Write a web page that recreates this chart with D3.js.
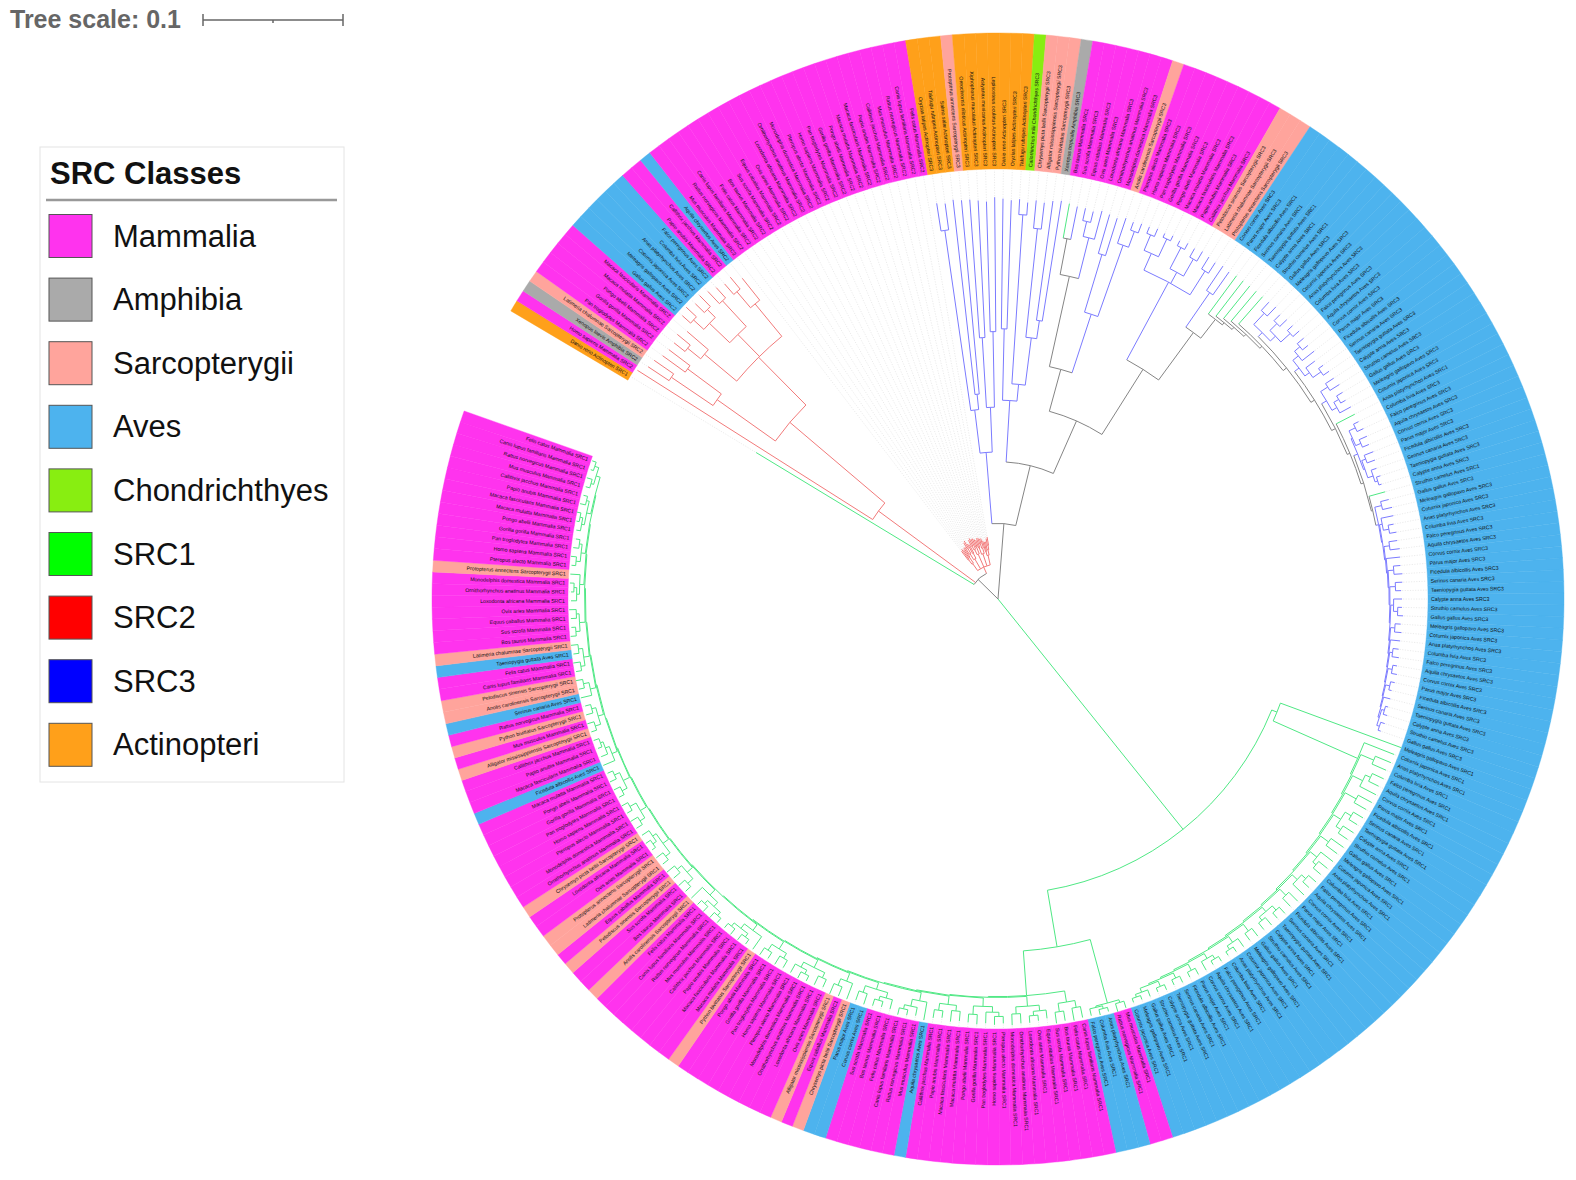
<!DOCTYPE html>
<html>
<head>
<meta charset="utf-8">
<script src="https://cdn.jsdelivr.net/npm/d3@7"></script>
<style>
  html, body { margin: 0; padding: 0; background: #fff; }
  svg { display: block; font-family: "Liberation Sans", Arial, sans-serif; }
</style>
</head>
<body>
<script>
// circular SRC tree: branch lengths in substitutions/site, leaves coded by class letter
// (M, A, S, V, C, O) with an optional SRC digit; clades carry an SRCn label.

const classCodes  = ["M", "A", "S", "V", "C", "O"];
const classNames  = ["Mammalia", "Amphibia", "Sarcopterygii", "Aves", "Chondrichthyes", "Actinopteri"];
const classColors = ["#ff33ee", "#aaaaaa", "#ffa49c", "#4db3ee", "#88ee11", "#ffa01a"];

const srcNames        = ["SRC1", "SRC2", "SRC3"];
const srcBranchColors = ["#4fe884", "#f27a7a", "#7b7bff"];
const mixedColor      = "#858585";

const legendLabels = ["Mammalia", "Amphibia", "Sarcopterygii", "Aves", "Chondrichthyes", "SRC1", "SRC2", "SRC3", "Actinopteri"];
const legendColors = ["#ff33ee", "#aaaaaa", "#ffa49c", "#4db3ee", "#88ee11", "#00ff00", "#ff0000", "#0000ff", "#ffa01a"];

const speciesM = ["Homo sapiens", "Pan troglodytes", "Gorilla gorilla", "Pongo abelii", "Macaca mulatta",
  "Macaca fascicularis", "Papio anubis", "Callithrix jacchus", "Mus musculus", "Rattus norvegicus",
  "Canis lupus familiaris", "Felis catus", "Bos taurus", "Sus scrofa", "Equus caballus", "Ovis aries",
  "Loxodonta africana", "Ornithorhynchus anatinus", "Monodelphis domestica", "Pteropus alecto"];
const speciesA = ["Xenopus laevis", "Xenopus tropicalis", "Nanorana parkeri"];
const speciesS = ["Latimeria chalumnae", "Protopterus annectens", "Chrysemys picta bellii",
  "Alligator mississippiensis", "Python bivittatus", "Anolis carolinensis", "Pelodiscus sinensis"];
const speciesV = ["Gallus gallus", "Meleagris gallopavo", "Coturnix japonica", "Anas platyrhynchos",
  "Columba livia", "Falco peregrinus", "Aquila chrysaetos", "Corvus cornix", "Parus major",
  "Ficedula albicollis", "Serinus canaria", "Taeniopygia guttata", "Calypte anna", "Struthio camelus"];
const speciesC = ["Callorhinchus milii", "Rhincodon typus"];
const speciesO = ["Danio rerio", "Oryzias latipes", "Takifugu rubripes", "Salmo salar",
  "Oreochromis niloticus", "Xiphophorus maculatus", "Astyanax mexicanus", "Lepisosteus oculatus"];

const treeScaleValue = 0.1;

// ---- clade pieces (Newick) ----
const cladeSRC2a = "(M:0.199,(((A:0.018,S:0.017):0.036,(M:0.02,M:0.019):0.03):0.051,(((M:0.01,M:0.012):0.012,M:0.02):0.03,(((V:0.008,V:0.01):0.01,(V:0.009,V:0.011):0.008):0.02,(V:0.012,V:0.01):0.025):0.022,((M:0.01,M:0.011):0.015,V:0.02):0.03):0.048):0.089)SRC2:0.086";
const cladeSRC2b = "(((M:0.008,M:0.009):0.004,(M:0.007,M:0.008):0.005):0.006,((M:0.006,(M:0.005,M:0.006):0.004):0.005,(M:0.008,M:0.007):0.004):0.008,(((M:0.005,M:0.006):0.003,M:0.008):0.004,(M:0.007,M:0.006):0.005):0.01,((M:0.006,M:0.007):0.005,((M:0.005,M:0.004):0.003,M:0.007):0.004):0.009,((M:0.008,M:0.007):0.003,(M:0.006,(M:0.005,M:0.006):0.003):0.004):0.007)SRC2:0.005";

const cladeFishA = "(((O:0.02,O:0.019):0.13,(O:0.14,S:0.139):0.011):0.031,((O:0.099,O:0.098):0.05,(O:0.093,O:0.096):0.054):0.032):0.051";
const cladeFishB = "((O:0.093,O:0.092):0.051,((O:0.011,C:0.009):0.121,((S:0.02,S:0.019):0.078,(S:0.086,A:0.087):0.013):0.034):0.012):0.044";
const cladeMamA  = "((M1:0.025,M:0.024):0.026,((M:0.009,M:0.008):0.011,M:0.021):0.03):0.066";
const cladeMamB  = "((M:0.029,M:0.028):0.043,(S:0.019,(M:0.006,M:0.007):0.012):0.054):0.044";
const cladeMamC  = "(((M:0.005,M:0.006):0.012,(M:0.003,M:0.004):0.014):0.013,((M:0.004,M:0.005):0.017,(M:0.007,S:0.008):0.014):0.009,(S:0.01,S:0.009):0.02):0.063";
const avesB1 = "((V:0.008,V:0.009):0.011,((V:0.006,V:0.007):0.007,(V:0.005,V:0.006):0.009):0.005):0.004";
const avesB2 = "(((V:0.006,V:0.005):0.005,V:0.011):0.005,(V:0.008,(V:0.004,V:0.005):0.007):0.004):0.004";
const avesB3 = "((V:0.007,V:0.008):0.006,((V:0.005,V:0.004):0.004,V:0.009):0.004):0.004";
const avesB4 = "(((V:0.004,V:0.005):0.005,(V:0.006,V:0.005):0.004):0.001,((V:0.007,V:0.006):0.003,(V:0.004,(V:0.003,V:0.002):0.002):0.004):0.001):0.003";
const avesB5Rungs = ["(V:0.006,V:0.007):0.005", "(V:0.009,(V:0.004,V:0.005):0.004):0.002",
  "(V:0.006,V:0.007):0.004", "V:0.01", "(V:0.005,V:0.006):0.004", "(V:0.005,V:0.004):0.004",
  "(V:0.006,(V:0.003,V:0.004):0.003):0.002", "(V:0.004,V:0.005):0.003", "V:0.007",
  "(V:0.004,V:0.005):0.002", "(V:0.003,V:0.004):0.003", "(V:0.003,V:0.002):0.003", "V:0.005",
  "((V:0.002,V:0.003):0.002,(V:0.003,V:0.002):0.002):0.001"];

const avesSRC1Rungs = ["V:0.023", "(V:0.012,V:0.011):0.01", "((V:0.009,V:0.008):0.004,V:0.013):0.008",
  "(V:0.011,V:0.01):0.009", "((V:0.008,V:0.007):0.005,(V:0.009,V:0.008):0.004):0.006",
  "(V:0.011,V:0.01):0.007", "(V:0.011,(V:0.008,V:0.007):0.003):0.006",
  "((V:0.007,V:0.006):0.004,V:0.011):0.005", "(V:0.009,V:0.008):0.006",
  "((V:0.006,V:0.005):0.004,(V:0.007,V:0.006):0.003):0.004", "(V:0.007,V:0.006):0.006",
  "(V:0.007,(V:0.004,V:0.003):0.003):0.005", "((V:0.004,V:0.003):0.003,V:0.007):0.004",
  "(V:0.005,V:0.004):0.005", "(V:0.005,V:0.004):0.004", "(V:0.004,V:0.003):0.004",
  "(V:0.005,(V:0.003,V:0.003):0.002):0.003"];
const cladeSRC1small = "((M:0.005,M:0.006):0.002,((V:0.003,V:0.004):0.002,V:0.005):0.001):0.047";
const mixedSRC1Rungs = [
  "((M:0.008,M:0.009):0.005,(M:0.007,M:0.008):0.006):0.008",
  "((M:0.006,(M:0.004,M:0.005):0.003):0.004,(M:0.007,M:0.008):0.005):0.007",
  "(((M:0.005,M:0.006):0.003,M:0.008):0.004,(M:0.007,M:0.006):0.006):0.006",
  "((M:0.007,M:0.008):0.004,(M:0.005,M:0.006):0.005):0.006",
  "(V:0.013,(M:0.006,(M:0.004,M:0.005):0.003):0.005):0.006",
  "((M:0.007,(M:0.004,M:0.005):0.003):0.004,(V:0.008,V:0.007):0.005):0.005",
  "(S:0.012,(M:0.007,S:0.008):0.005):0.006",
  "((M:0.006,M:0.007):0.004,((M:0.004,M:0.005):0.003,M:0.007):0.004):0.006",
  "((M:0.006,M:0.007):0.004,(M:0.005,M:0.006):0.005):0.006",
  "(S:0.011,((M:0.004,M:0.005):0.003,(M:0.005,M:0.004):0.003):0.004):0.005",
  "(((M:0.004,M:0.005):0.003,(M:0.005,M:0.004):0.003):0.004,S:0.011):0.005",
  "((M:0.005,M:0.006):0.005,(S:0.006,M:0.007):0.004):0.005",
  "((S:0.005,S:0.006):0.004,((M:0.003,M:0.004):0.003,S:0.006):0.003):0.005",
  "((M:0.005,M:0.006):0.004,(M:0.004,M:0.005):0.005):0.005",
  "((M:0.004,M:0.005):0.004,(M:0.005,M:0.004):0.004):0.005",
  "(V:0.009,(M:0.005,(M:0.003,M:0.004):0.002):0.003):0.004",
  "((S:0.004,M:0.005):0.004,(S:0.005,M:0.004):0.003):0.004",
  "(V:0.008,(S:0.004,S:0.005):0.004):0.004",
  "((M:0.004,M:0.005):0.003,(V:0.004,S:0.005):0.003):0.004",
  "((M:0.004,M:0.003):0.003,(M:0.004,M:0.005):0.002):0.004",
  "((M:0.004,(M:0.002,M:0.003):0.002):0.002,S:0.007):0.003",
  "((M:0.003,M:0.004):0.003,(M:0.004,M:0.003):0.002):0.003",
  "((M:0.003,(M:0.002,M:0.003):0.002):0.002,(M:0.004,M:0.003):0.002):0.003",
  "((M:0.003,M:0.004):0.002,(M:0.002,M:0.003):0.003):0.003"];

// nest rungs as (r0,(r1,(...(rn-1,rn):step...):step))
function ladder(parts, step) {
  let s = `(${parts[parts.length - 2]},${parts[parts.length - 1]})`;
  for (let i = parts.length - 3; i >= 0; i--) s = `(${parts[i]},${s}:${step})`;
  return s;
}

const avesB5 = ladder(avesB5Rungs, 0.0006) + ":0.002";
const n8 = `(${avesB1},(${avesB2},(${avesB3},(V1:0.015,(${avesB4},(V1:0.012,${avesB5}):0.001):0.002):0.002):0.003):0.003):0.003`;
const n7 = `(V1:0.034,(V1:0.032,(V1:0.03,(V1:0.028,(V1:0.026,${n8}):0.002):0.002):0.002):0.002):0.017`;
const n6 = `((V:0.021,V:0.02):0.03,${n7}):0.042`;
const cladeSRC3 = `(${cladeFishA},(${cladeFishB},((${cladeMamA},${cladeMamB}):0.031,(${cladeMamC},${n6}):0.055):0.041):0.044)SRC3:0.054`;
const cladeSRC1 = `((V:0.092,${ladder(avesSRC1Rungs, 0.001)}:0.066):0.004,(${cladeSRC1small},${ladder(mixedSRC1Rungs, 0.0006)}:0.032):0.041)SRC1:0.211`;
const newick = `((O1:0.182,${cladeSRC2a},${cladeSRC2b}):0.02,${cladeSRC3},${cladeSRC1});`;

// ---- layout constants ----
const W = 1576, H = 1180;
const CX = 998, CY = 599;
const R_IN = 430, R_OUT = 566;
const FIRST_ANGLE = 300.6, LAST_ANGLE = 649.4;

function parseNewick(s) {
  const ancestors = [];
  let tree = {};
  const tokens = s.split(/\s*(;|\(|\)|,|:)\s*/);
  for (let i = 0; i < tokens.length; i++) {
    const t = tokens[i];
    if (t === "(") { const sub = {}; tree.children = [sub]; ancestors.push(tree); tree = sub; }
    else if (t === ",") { const sub = {}; ancestors[ancestors.length - 1].children.push(sub); tree = sub; }
    else if (t === ")") { tree = ancestors.pop(); }
    else if (t === ":" || t === ";" || t === "") { /* skip */ }
    else {
      const prev = tokens[i - 1];
      if (prev === ":") tree.length = parseFloat(t);
      else tree.name = t;
    }
  }
  return tree;
}

const root = d3.hierarchy(parseNewick(newick));
d3.cluster().size([1, 1]).separation(() => 1)(root);

const rScale = d3.scaleLinear().domain([0, treeScaleValue]).range([0, 140]);
const aScale = d3.scaleLinear().domain([0, 1]).range([FIRST_ANGLE, LAST_ANGLE]);

root.eachBefore(d => {
  d.dist = d.parent ? d.parent.dist + (d.data.length || 0) : 0;
  d.r = rScale(d.dist);
  d.theta = aScale(d.x);
});

const leaves = root.leaves();
const speciesLists = { M: speciesM, A: speciesA, S: speciesS, V: speciesV, C: speciesC, O: speciesO };
const speciesCount = {};
leaves.forEach(l => {
  const code = l.data.name[0];
  const ci = classCodes.indexOf(code);
  let src = l.data.name.length > 1 ? +l.data.name.slice(1) : null;
  if (src === null) {
    let a = l.parent;
    while (a && !(a.data.name && /^SRC\d$/.test(a.data.name))) a = a.parent;
    src = a ? +a.data.name.slice(3) : 1;
  }
  l.cls = ci;
  l.src = src;
  const list = speciesLists[code];
  const k = speciesCount[code] = (speciesCount[code] || 0) + 1;
  l.label = `${list[(k - 1) % list.length]} ${classNames[ci]} ${srcNames[src - 1]}`;
});
root.each(d => {
  const s = new Set(d.leaves().map(l => l.src));
  d.color = s.size === 1 ? srcBranchColors[[...s][0] - 1] : mixedColor;
});

const step = (LAST_ANGLE - FIRST_ANGLE) / (leaves.length - 1);
const rad = a => a * Math.PI / 180;
const pt = (a, r) => [CX + r * Math.sin(rad(a)), CY - r * Math.cos(rad(a))];
const isLeft = a => ((a % 360) + 360) % 360 > 180;

const svg = d3.select("body").append("svg").attr("width", W).attr("height", H);

// leader lines
svg.append("g")
  .selectAll("path")
  .data(leaves.filter(l => l.r < R_IN - 3))
  .join("path")
  .attr("d", l => `M${pt(l.theta, l.r + 1)}L${pt(l.theta, R_IN - 1)}`)
  .attr("stroke", "#d6d6d6")
  .attr("stroke-width", 0.5)
  .attr("stroke-dasharray", "1.2,1.4")
  .attr("fill", "none");

// label backgrounds
const wedge = d3.arc().innerRadius(R_IN).outerRadius(R_OUT);
svg.append("g")
  .attr("transform", `translate(${CX},${CY})`)
  .selectAll("path")
  .data(leaves)
  .join("path")
  .attr("d", l => wedge({ startAngle: rad(l.theta - step / 2), endAngle: rad(l.theta + step / 2) }))
  .attr("fill", l => classColors[l.cls])
  .attr("stroke", l => classColors[l.cls])
  .attr("stroke-width", 0.4);

// labels
svg.append("g")
  .attr("transform", `translate(${CX},${CY})`)
  .selectAll("text")
  .data(leaves)
  .join("text")
  .attr("transform", l => `rotate(${l.theta - 90}) translate(${R_IN + 3},0)` + (isLeft(l.theta) ? " rotate(180)" : ""))
  .attr("text-anchor", l => (isLeft(l.theta) ? "end" : "start"))
  .attr("dy", "0.35em")
  .attr("font-size", 5.2)
  .attr("fill", "#111")
  .text(l => l.label);

// branches
const branches = svg.append("g").attr("fill", "none").attr("stroke-width", 1);
branches.selectAll("path.radial")
  .data(root.descendants().filter(d => d.parent))
  .join("path")
  .attr("class", "radial")
  .attr("d", d => `M${pt(d.theta, d.parent.r)}L${pt(d.theta, d.r)}`)
  .attr("stroke", d => d.color);
branches.selectAll("path.arc")
  .data(root.descendants().filter(d => d.children && d.r > 0))
  .join("path")
  .attr("class", "arc")
  .attr("d", d => {
    const t1 = d3.min(d.children, c => c.theta), t2 = d3.max(d.children, c => c.theta);
    return `M${pt(t1, d.r)}A${d.r},${d.r} 0 ${t2 - t1 > 180 ? 1 : 0} 1 ${pt(t2, d.r)}`;
  })
  .attr("stroke", d => d.color);

// tree scale
const barX = 203, barY = 20, barLen = rScale(treeScaleValue) - rScale(0);
const scaleG = svg.append("g").attr("stroke", "#666").attr("stroke-width", 1.5);
scaleG.append("line").attr("x1", barX).attr("x2", barX + barLen).attr("y1", barY).attr("y2", barY);
scaleG.append("line").attr("x1", barX).attr("x2", barX).attr("y1", barY - 6).attr("y2", barY + 6);
scaleG.append("line").attr("x1", barX + barLen).attr("x2", barX + barLen).attr("y1", barY - 6).attr("y2", barY + 6);
scaleG.append("line").attr("x1", barX + barLen / 2).attr("x2", barX + barLen / 2).attr("y1", barY).attr("y2", barY + 3);
svg.append("text")
  .attr("x", 10).attr("y", 28)
  .attr("font-size", 25).attr("font-weight", "bold").attr("fill", "#666")
  .text(`Tree scale: ${treeScaleValue}`);

// legend
const legend = svg.append("g");
legend.append("rect")
  .attr("x", 40).attr("y", 147).attr("width", 304).attr("height", 635)
  .attr("fill", "#fff").attr("stroke", "#e4e4e4").attr("stroke-width", 1);
legend.append("text")
  .attr("x", 50).attr("y", 184)
  .attr("font-size", 31).attr("font-weight", "bold").attr("fill", "#111")
  .text("SRC Classes");
legend.append("line")
  .attr("x1", 46).attr("x2", 337).attr("y1", 200).attr("y2", 200)
  .attr("stroke", "#999").attr("stroke-width", 2.5);
const item = legend.selectAll("g.item")
  .data(legendLabels)
  .join("g")
  .attr("class", "item")
  .attr("transform", (d, i) => `translate(0,${236 + i * 63.6})`);
item.append("rect")
  .attr("x", 49).attr("y", -21.5).attr("width", 43).attr("height", 43)
  .attr("fill", (d, i) => legendColors[i])
  .attr("stroke", "#555").attr("stroke-width", 1);
item.append("text")
  .attr("x", 113).attr("y", 10.5)
  .attr("font-size", 31).attr("fill", "#111")
  .text(d => d);
</script>
</body>
</html>
